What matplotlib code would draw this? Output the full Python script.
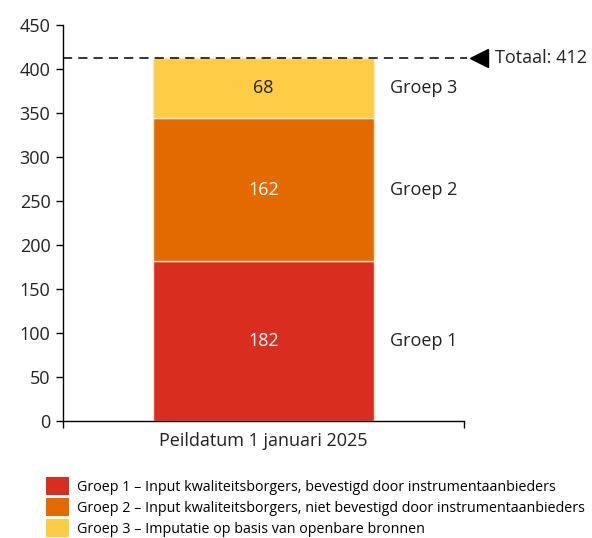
import numpy as np
import matplotlib.pyplot as plt
from matplotlib.patches import Patch

plt.rcParams['font.family'] = ['Open Sans', 'DejaVu Sans']

# data
category = 'Peildatum 1 januari 2025'
groups = ['Groep 1', 'Groep 2', 'Groep 3']
values = [182, 162, 68]
colors = ['#D92E1F', '#E36A00', '#FFCC45']
label_colors = ['white', 'white', '#222222']
legend_labels = [
    'Groep 1 \u2013 Input kwaliteitsborgers, bevestigd door instrumentaanbieders',
    'Groep 2 \u2013 Input kwaliteitsborgers, niet bevestigd door instrumentaanbieders',
    'Groep 3 \u2013 Imputatie op basis van openbare bronnen',
]
total = sum(values)

fig = plt.figure(figsize=(5.92, 5.38), dpi=100)
ax = fig.add_axes([0.1064, 0.2175, 0.6774, 0.736])

bottom = 0
for v, c, lc, g in zip(values, colors, label_colors, groups):
    ax.bar(0, v, width=0.551, bottom=bottom, color=c, edgecolor='#FCE4D0',
           linewidth=1.0, zorder=2)
    mid = bottom + v / 2
    ax.text(0, mid, str(v), ha='center', va='center', color=lc, fontsize=13)
    ax.text(0.315, mid, g, ha='left', va='center', color='#222222',
            fontsize=13, clip_on=False)
    bottom += v

# total line with marker
ax.plot([-0.5, 0.507], [total, total], color='black', lw=1.1,
        dashes=(6, 4), clip_on=False, zorder=3)
ax.plot([0.537], [total], marker='<', color='black', markersize=13,
        clip_on=False, zorder=3)
ax.text(0.577, total, 'Totaal: %d' % total, ha='left', va='center',
        fontsize=13, color='#222222', clip_on=False)

ax.set_xlim(-0.5, 0.5)
ax.set_ylim(0, 450)
ax.set_yticks(np.arange(0, 451, 50))
ax.set_xticks([0])
ax.set_xticklabels([category], fontsize=13, color='#222222')
ax.set_xticks([-0.5, 0.5], minor=True)
ax.tick_params(axis='x', which='major', length=0, pad=8)
ax.tick_params(axis='x', which='minor', length=5, direction='out', width=1)
ax.tick_params(axis='y', length=5, width=1, direction='out', labelsize=13,
               labelcolor='#222222', pad=4)
for s in ['top', 'right']:
    ax.spines[s].set_visible(False)
for s in ['left', 'bottom']:
    ax.spines[s].set_linewidth(1.0)

handles = [Patch(facecolor=c, edgecolor='none') for c in colors]
fig.legend(handles, legend_labels, loc='upper left',
           bbox_to_anchor=(0.0777, 0.113), frameon=False, fontsize=10.3,
           handlelength=1.6, handleheight=1.5, labelspacing=0.25,
           handletextpad=0.55, borderpad=0, borderaxespad=0)

fig.savefig('out.png', dpi=100)
